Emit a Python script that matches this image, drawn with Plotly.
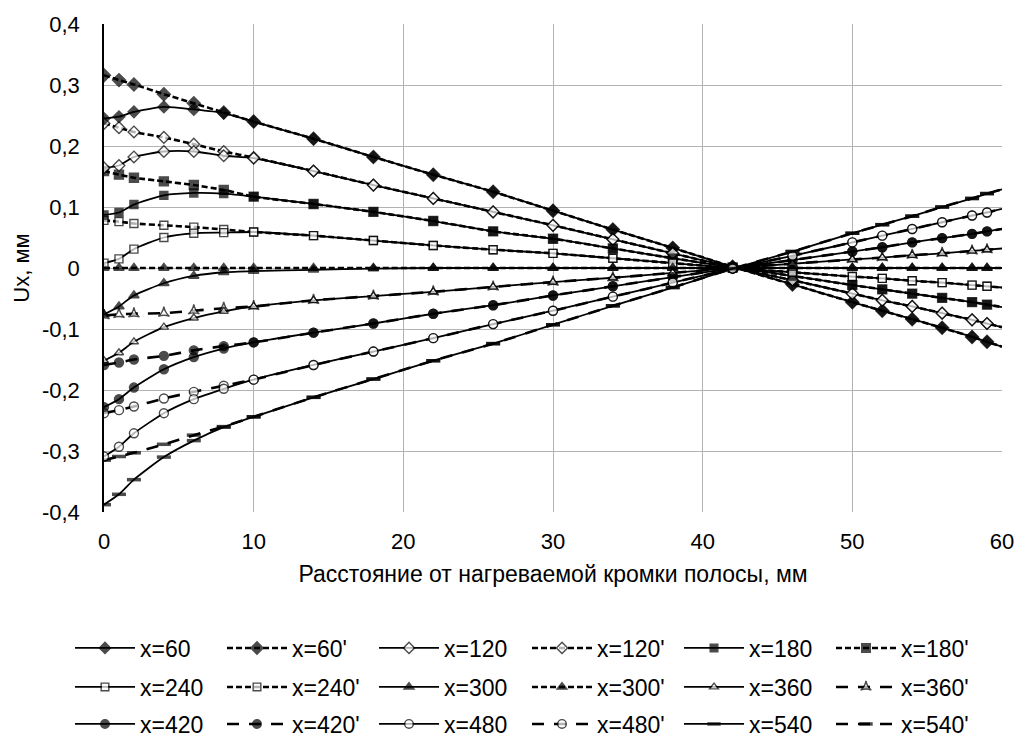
import plotly.graph_objects as go

# ---------------- data ----------------
near_x = [0, 1, 2, 4, 6, 8, 10]
tail_x = [14, 18, 22, 26, 30, 34, 38, 42, 46, 50, 52, 54, 56, 58, 59, 60]

# near-field values (x = 0..10) for each series
near_60 = [0.245, 0.248, 0.256, 0.264, 0.260, 0.254, 0.240]
near_60p = [0.316, 0.308, 0.301, 0.285, 0.270, 0.255, 0.240]
near_120 = [0.164, 0.168, 0.182, 0.191, 0.191, 0.184, 0.180]
near_120p = [0.237, 0.230, 0.223, 0.214, 0.203, 0.191, 0.181]
near_180 = [0.087, 0.091, 0.104, 0.119, 0.123, 0.122, 0.117]
near_180p = [0.159, 0.153, 0.148, 0.142, 0.136, 0.128, 0.117]
near_240 = [0.008, 0.015, 0.031, 0.050, 0.057, 0.058, 0.059]
near_240p = [0.078, 0.076, 0.073, 0.070, 0.067, 0.063, 0.059]
near_300 = [-0.076, -0.063, -0.045, -0.025, -0.013, -0.007, -0.005]
near_300p = [0.0, 0.0, 0.0, 0.0, 0.0, 0.0, 0.0]
near_360 = [-0.152, -0.139, -0.121, -0.097, -0.082, -0.071, -0.063]
near_360p = [-0.078, -0.076, -0.075, -0.074, -0.070, -0.066, -0.063]
near_420 = [-0.228, -0.215, -0.196, -0.166, -0.146, -0.132, -0.122]
near_420p = [-0.159, -0.155, -0.150, -0.144, -0.135, -0.128, -0.122]
near_480 = [-0.309, -0.293, -0.271, -0.238, -0.215, -0.198, -0.183]
near_480p = [-0.238, -0.233, -0.227, -0.214, -0.203, -0.193, -0.183]
near_540 = [-0.388, -0.371, -0.347, -0.310, -0.283, -0.261, -0.244]
near_540p = [-0.315, -0.309, -0.303, -0.289, -0.274, -0.260, -0.244]

# far-field values (x = 14..60), shared by x=N and x=N'
tail_60 = [0.212, 0.182, 0.153, 0.125, 0.094, 0.063, 0.033, 0.002, -0.027, -0.056, -0.070, -0.084, -0.098, -0.113, -0.121, -0.129]
tail_120 = [0.159, 0.136, 0.114, 0.092, 0.070, 0.047, 0.024, 0.001, -0.020, -0.042, -0.053, -0.063, -0.074, -0.085, -0.091, -0.097]
tail_180 = [0.105, 0.092, 0.077, 0.060, 0.048, 0.032, 0.016, 0.001, -0.013, -0.028, -0.035, -0.042, -0.049, -0.056, -0.060, -0.064]
tail_240 = [0.053, 0.045, 0.037, 0.030, 0.024, 0.016, 0.008, 0.0, -0.007, -0.014, -0.017, -0.021, -0.024, -0.028, -0.030, -0.032]
tail_300 = [-0.003, -0.001, 0.0, 0.0, 0.0, 0.0, 0.0, 0.0, 0.0, 0.0, 0.0, 0.0, 0.0, 0.0, 0.0, 0.0]
tail_300p = [0.0, 0.0, 0.0, 0.0, 0.0, 0.0, 0.0, 0.0, 0.0, 0.0, 0.0, 0.0, 0.0, 0.0, 0.0, 0.0]
tail_360 = [-0.053, -0.046, -0.039, -0.031, -0.023, -0.016, -0.008, 0.0, 0.007, 0.014, 0.017, 0.021, 0.024, 0.028, 0.030, 0.032]
tail_420 = [-0.106, -0.091, -0.075, -0.061, -0.045, -0.030, -0.015, 0.0, 0.013, 0.027, 0.034, 0.042, 0.049, 0.056, 0.060, 0.064]
tail_480 = [-0.159, -0.137, -0.115, -0.092, -0.070, -0.047, -0.024, -0.001, 0.020, 0.042, 0.053, 0.064, 0.075, 0.086, 0.091, 0.097]
tail_540 = [-0.212, -0.182, -0.152, -0.124, -0.093, -0.062, -0.032, -0.001, 0.027, 0.057, 0.071, 0.085, 0.100, 0.114, 0.122, 0.129]

series_names = ["x=60", "x=60'", "x=120", "x=120'", "x=180", "x=180'",
                "x=240", "x=240'", "x=300", "x=300'", "x=360", "x=360'",
                "x=420", "x=420'", "x=480", "x=480'", "x=540", "x=540'"]

y_tick_vals = [-0.4, -0.3, -0.2, -0.1, 0, 0.1, 0.2, 0.3, 0.4]
y_tick_text = ["-0,4", "-0,3", "-0,2", "-0,1", "0", "0,1", "0,2", "0,3", "0,4"]
x_tick_vals = [0, 10, 20, 30, 40, 50, 60]

x_title = "Расстояние от нагреваемой кромки полосы, мм"
y_title = "Ux, мм"

# ---------------- styling ----------------
FONT = "Liberation Sans, Arial, sans-serif"
BLACK = "#000000"

series_data = [
    (near_60, tail_60), (near_60p, tail_60),
    (near_120, tail_120), (near_120p, tail_120),
    (near_180, tail_180), (near_180p, tail_180),
    (near_240, tail_240), (near_240p, tail_240),
    (near_300, tail_300), (near_300p, tail_300p),
    (near_360, tail_360), (near_360p, tail_360),
    (near_420, tail_420), (near_420p, tail_420),
    (near_480, tail_480), (near_480p, tail_480),
    (near_540, tail_540), (near_540p, tail_540),
]

# (symbol, size, filled, dash, width)
styles = [
    ("diamond", 9, True, "solid", 1.8), ("diamond", 10, True, "6px,3px", 2.6),
    ("diamond", 9, False, "solid", 1.8), ("diamond", 9, False, "6px,3px", 2.6),
    ("square", 8, True, "solid", 1.8), ("square", 9, True, "6px,3px", 2.6),
    ("square", 8, False, "solid", 1.8), ("square", 8, False, "6px,3px", 2.6),
    ("triangle-up", 9, True, "solid", 1.8), ("triangle-up", 9, True, "6px,3px", 2.6),
    ("triangle-up", 8, False, "solid", 1.8), ("star-triangle-up", 8, False, "12px,10px", 2.6),
    ("circle", 9, True, "solid", 1.8), ("circle", 9, True, "12px,10px", 2.6),
    ("circle", 9, False, "solid", 1.8), ("circle", 9, False, "12px,10px", 2.6),
    ("line-ew", 10, True, "solid", 1.8), ("line-ew", 10, True, "12px,10px", 2.6),
]

# 3 legend rows, each split into two halves of 3 entries
legend_ids = (["legend"] * 3 + ["legend2"] * 3 + ["legend3"] * 3 +
              ["legend4"] * 3 + ["legend5"] * 3 + ["legend6"] * 3)

fig = go.Figure()
# draw dashed (primed) first, then solid on top; legend order kept by legendrank
order = [i for i in range(18) if i % 2 == 1] + [i for i in range(18) if i % 2 == 0]
for i in order:
    near, tail = series_data[i]
    xs = near_x + tail_x
    ys = near + tail
    sym, size, filled, dash, width = styles[i]
    sizes = [size] * (len(xs) - 1) + [0]
    if sym == "line-ew":
        marker = dict(symbol="line-ew", size=sizes, line=dict(color=BLACK, width=3.5), color=BLACK)
    else:
        marker = dict(symbol=sym, size=sizes,
                      color=BLACK if filled else "#ffffff",
                      line=dict(color=BLACK, width=1.4))
    fig.add_trace(go.Scatter(
        x=xs, y=ys, name=series_names[i], mode="lines+markers",
        line=dict(color=BLACK, width=width, dash=dash, shape="spline", smoothing=0.6),
        marker=marker, legend=legend_ids[i], legendrank=i + 1,
        showlegend=True,
    ))

leg_common = dict(orientation="h", xref="container", yref="container",
                  xanchor="left", yanchor="middle",
                  entrywidth=77, entrywidthmode="pixels", itemwidth=60,
                  font=dict(family=FONT, size=23, color=BLACK),
                  bgcolor="rgba(0,0,0,0)", traceorder="normal")
row_y = [648, 687, 724]
col_x = [70, 527]
legend_layout = {}
k = 0
for ry in row_y:
    for cx in col_x:
        key = "legend" if k == 0 else "legend%d" % (k + 1)
        legend_layout[key] = dict(**leg_common, x=cx / 1026, y=1 - ry / 738)
        k += 1

fig.update_layout(
    width=1026, height=738,
    margin=dict(l=104, r=17, t=21, b=226),
    paper_bgcolor="white", plot_bgcolor="white",
    font=dict(family=FONT, size=22, color=BLACK),
    **legend_layout,
    xaxis=dict(range=[0, 60], tickvals=x_tick_vals, showgrid=True,
               gridcolor="#b3b3b3", gridwidth=1, zeroline=False,
               showline=False, ticks="", ticklabelstandoff=14,
               title=dict(text=x_title, font=dict(size=23), standoff=12),
               tickfont=dict(size=22)),
    yaxis=dict(range=[-0.4, 0.4], tickvals=y_tick_vals, ticktext=y_tick_text,
               showgrid=True, gridcolor="#b3b3b3", gridwidth=1, zeroline=False,
               showline=True, linecolor=BLACK, linewidth=1.5, ticks="",
               ticklabelstandoff=18,
               title=dict(text=y_title, font=dict(size=22), standoff=6),
               tickfont=dict(size=22)),
)

fig.write_html("out.html")
